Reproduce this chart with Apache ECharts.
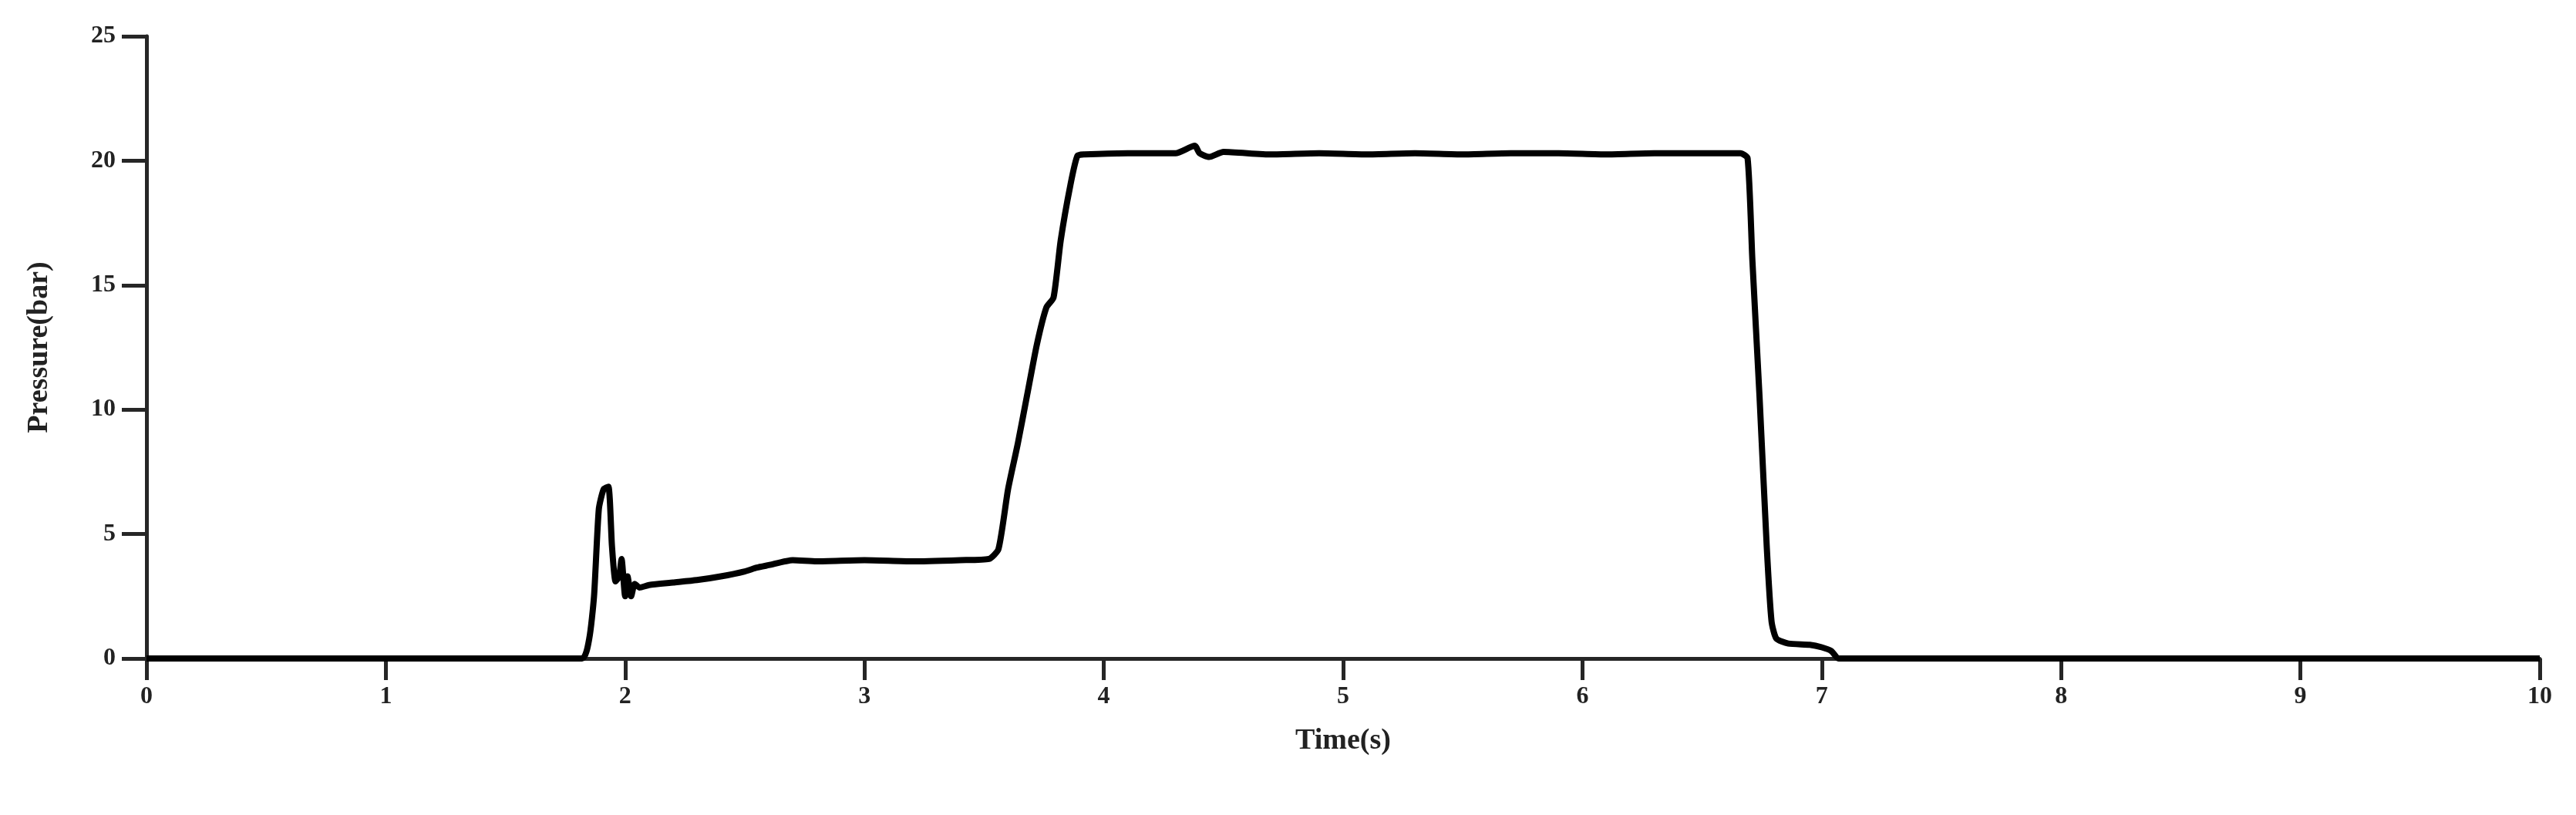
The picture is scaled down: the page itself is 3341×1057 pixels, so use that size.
<!DOCTYPE html>
<html>
<head>
<meta charset="utf-8">
<script src="https://cdn.jsdelivr.net/npm/echarts@6/dist/echarts.min.js"></script>
<style>html,body{margin:0;padding:0;background:#fff}#main{width:3341px;height:1057px}</style>
</head>
<body>
<div id="main"></div>
<script>
// 时间(s)与压力(bar)数据
var timeS = [0, 1.82, 1.85, 1.87, 1.89, 1.91, 1.93, 1.945, 1.96, 1.975, 1.985, 2.0, 2.01, 2.025, 2.04, 2.06, 2.1, 2.2, 2.3, 2.4, 2.5, 2.55, 2.6, 2.7, 2.8, 3.0, 3.2, 3.4, 3.52, 3.56, 3.6, 3.64, 3.68, 3.72, 3.76, 3.79, 3.82, 3.86, 3.89, 3.92, 4.1, 4.3, 4.38, 4.4, 4.44, 4.5, 4.7, 4.9, 5.1, 5.3, 5.5, 5.7, 5.9, 6.1, 6.3, 6.5, 6.66, 6.69, 6.71, 6.74, 6.77, 6.79, 6.81, 6.86, 6.95, 7.0, 7.04, 7.07, 10];
var pressure = [0, 0, 0.8, 2.5, 6.0, 6.8, 6.9, 4.5, 3.1, 3.3, 4.0, 2.5, 3.3, 2.5, 3.0, 2.85, 2.95, 3.05, 3.15, 3.3, 3.5, 3.65, 3.75, 3.95, 3.9, 3.95, 3.9, 3.95, 4.0, 4.4, 6.8, 8.6, 10.6, 12.6, 14.1, 14.5, 16.8, 19.0, 20.2, 20.25, 20.3, 20.3, 20.6, 20.3, 20.15, 20.35, 20.25, 20.3, 20.25, 20.3, 20.25, 20.3, 20.3, 20.25, 20.3, 20.3, 20.3, 20.1, 16.0, 10.5, 4.5, 1.5, 0.8, 0.6, 0.55, 0.45, 0.3, 0, 0];
var xTicks = [0, 1, 2, 3, 4, 5, 6, 7, 8, 9, 10];
var yTicks = [0, 5, 10, 15, 20, 25];

var seriesData = timeS.map(function (t, i) { return [t, pressure[i]]; });

var axisColor = '#262626';
var fontName = '"Liberation Serif", "Times New Roman", serif';

var chart = echarts.init(document.getElementById('main'));
chart.setOption({
    animation: false,
    backgroundColor: '#fff',
    grid: { left: 190, right: 47, top: 47, bottom: 203 },
    xAxis: {
        type: 'value',
        min: 0, max: 10, interval: 1,
        name: 'Time(s)',
        nameLocation: 'middle',
        nameGap: 88,
        nameTextStyle: { color: '#222', fontFamily: fontName, fontWeight: 'bold', fontSize: 38 },
        axisLine: { show: true, onZero: false, lineStyle: { color: axisColor, width: 5 } },
        axisTick: { show: true, inside: false, length: 28, lineStyle: { color: axisColor, width: 5 } },
        minorTick: { show: false },
        axisLabel: { color: '#222', fontFamily: fontName, fontWeight: 'bold', fontSize: 32, margin: 34 },
        splitLine: { show: false }
    },
    yAxis: {
        type: 'value',
        min: 0, max: 25, interval: 5,
        name: 'Pressure(bar)',
        nameLocation: 'middle',
        nameGap: 120,
        nameTextStyle: { color: '#222', fontFamily: fontName, fontWeight: 'bold', fontSize: 38 },
        axisLine: { show: true, onZero: false, lineStyle: { color: axisColor, width: 5 } },
        axisTick: { show: true, inside: false, length: 32, lineStyle: { color: axisColor, width: 5 } },
        axisLabel: { color: '#222', fontFamily: fontName, fontWeight: 'bold', fontSize: 32, margin: 40 },
        splitLine: { show: false }
    },
    series: [{
        type: 'line',
        data: seriesData,
        symbol: 'none',
        smooth: 0.2,
        lineStyle: { color: '#000', width: 8 },
        z: 5
    }]
});
</script>
</body>
</html>
